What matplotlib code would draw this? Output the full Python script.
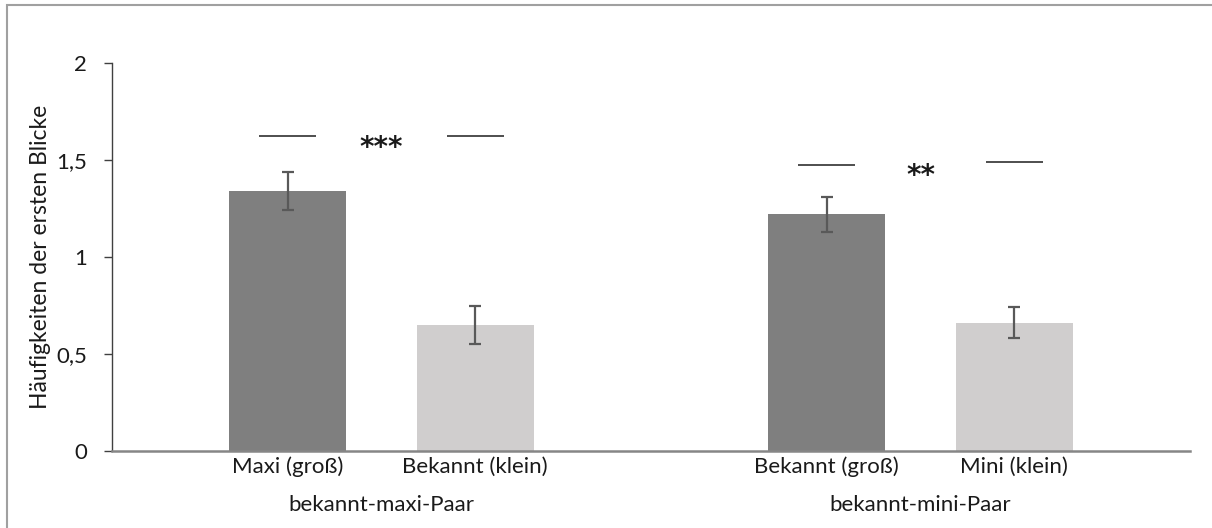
import matplotlib
matplotlib.use("Agg")
import matplotlib.pyplot as plt
from matplotlib.patches import Rectangle
from matplotlib.ticker import FuncFormatter

plt.rcParams['font.family'] = ['Lato', 'DejaVu Sans']

# Data
groups = ["bekannt-maxi-Paar", "bekannt-mini-Paar"]
bar_labels = ["Maxi (groß)", "Bekannt (klein)", "Bekannt (groß)", "Mini (klein)"]
means = [1.34, 0.65, 1.22, 0.66]
errors = [0.10, 0.10, 0.09, 0.08]
ylabel = "Häufigkeiten der ersten Blicke"
yticks = [0, 0.5, 1, 1.5, 2]
sig_marks = ["***", "**"]
sig_left_levels = [1.625, 1.476]
sig_right_levels = [1.625, 1.491]

dark, light = "#7f7f7f", "#d0cece"
colors = [dark, light, dark, light]

fig = plt.figure(figsize=(12.12, 5.28), dpi=100)
ax = fig.add_axes([0.0924, 0.1458, 0.8894, 0.7349])

offset, width = 0.174, 0.217
group_centers = [0.5, 1.5]
xpos = []
for gc in group_centers:
    xpos += [gc - offset, gc + offset]

ax.bar(xpos, means, width=width, color=colors, zorder=2)
ax.errorbar(xpos, means, yerr=errors, fmt="none", ecolor="#595959",
            elinewidth=1.6, capsize=4.3, capthick=1.6, zorder=3)

# significance markers: short lines above each bar with stars in between
seg_half = 0.053
for i, gc in enumerate(group_centers):
    xl, xr = xpos[2 * i], xpos[2 * i + 1]
    ax.plot([xl - seg_half, xl + seg_half], [sig_left_levels[i]] * 2,
            color="#404040", lw=1.3, solid_capstyle="butt")
    ax.plot([xr - seg_half, xr + seg_half], [sig_right_levels[i]] * 2,
            color="#404040", lw=1.3, solid_capstyle="butt")
    ax.text(gc, (sig_left_levels[i] + sig_right_levels[i]) / 2 - 0.065,
            sig_marks[i], ha="center", va="center", fontsize=20,
            family=["DejaVu Sans"], fontweight="bold", color="#1a1a1a")

ax.set_xlim(0, 2)
ax.set_ylim(0, 2)
ax.set_yticks(yticks)
ax.yaxis.set_major_formatter(FuncFormatter(
    lambda v, p: ("%g" % v).replace(".", ",")))
ax.set_xticks(xpos)
ax.set_xticklabels(bar_labels)
ax.tick_params(axis="x", length=0, pad=4, labelsize=16, colors="#1a1a1a")
ax.tick_params(axis="y", length=6, width=1, color="#404040", pad=12,
               labelsize=16, labelcolor="#1a1a1a")

for side in ("top", "right"):
    ax.spines[side].set_visible(False)
ax.spines["left"].set_color("#404040")
ax.spines["left"].set_linewidth(1)
ax.spines["bottom"].set_color("#868686")
ax.spines["bottom"].set_linewidth(1.8)

ax.set_ylabel(ylabel, fontsize=16.5, color="#1a1a1a", labelpad=4)

for gc, name in zip(group_centers, groups):
    ax.text(gc, -0.28, name, transform=ax.transData,
            ha="center", va="center", fontsize=16, color="#1a1a1a", clip_on=False)

# chart area frame
fig.patches.append(Rectangle((7 / 1212, -0.1), 1.2, 1 - 5 / 528 + 0.1,
                             transform=fig.transFigure, fill=False,
                             edgecolor="#a0a0a0", lw=1.5))

fig.savefig("out.png", dpi=100)
